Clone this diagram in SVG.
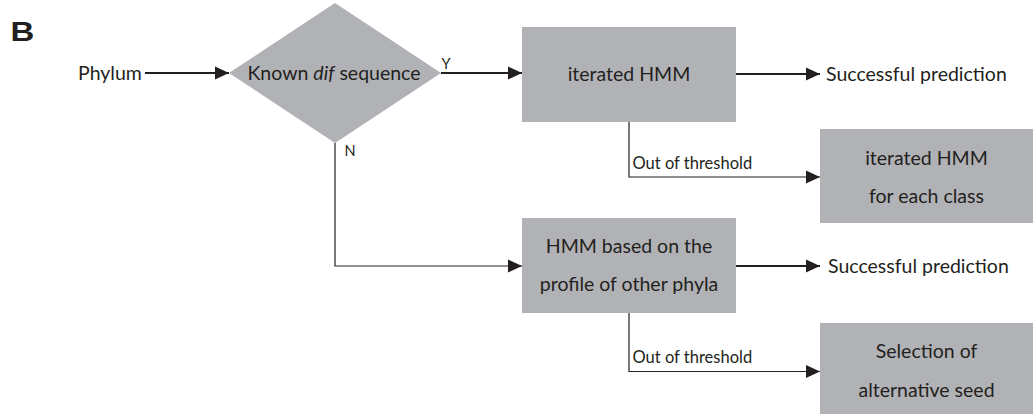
<svg xmlns="http://www.w3.org/2000/svg" width="1033" height="414" viewBox="0 0 1033 414">
<style>
.shape{fill:#b1b2b5;stroke:none}
.t{font-family:Lato,"Open Sans","Liberation Sans",sans-serif;fill:#231f20}
.mid{font-size:19.5px}
.sm{font-size:16.5px}
.yn{font-size:14.5px}
.c{text-anchor:middle}
.thick{stroke:#231f20;stroke-width:2;fill:none}
.thin{stroke:#231f20;stroke-width:1.2;fill:none}
.ah{fill:#231f20}
</style>
<defs>
<marker id="arr" markerUnits="userSpaceOnUse" markerWidth="14" markerHeight="14" viewBox="0 0 14 14" refX="14" refY="7" orient="auto">
<path d="M0,0.5 L14,7 L0,13.5 Z" class="ah"/>
</marker>
</defs>
<text x="0" y="0" transform="translate(10.5,40.7) scale(1.22,1)" style="font-family:'Liberation Sans',Arial,sans-serif;font-size:27px;font-weight:bold;fill:#231f20">B</text>
<g id="phylum"><text x="78" y="80" class="t mid">Phylum</text></g>
<g id="decision">
<polygon class="shape" points="335,3 441,73 335,143 229,73"/>
<text x="334" y="80" class="t mid c">Known <tspan font-style="italic">dif</tspan> sequence</text>
</g>
<g id="iterated">
<rect class="shape" x="522" y="27" width="214" height="95"/>
<text x="629" y="81" class="t mid c">iterated HMM</text>
</g>
<g id="success1"><text x="826" y="81" class="t mid">Successful prediction</text></g>
<g id="iterclass">
<rect class="shape" x="820" y="129" width="213" height="94"/>
<text x="926.5" y="165" class="t mid c">iterated HMM</text>
<text x="926.5" y="203" class="t mid c">for each class</text>
</g>
<g id="profile">
<rect class="shape" x="522" y="218" width="214" height="95"/>
<text x="629" y="253" class="t mid c">HMM based on the</text>
<text x="629" y="291" class="t mid c">profile of other phyla</text>
</g>
<g id="success2"><text x="828" y="273" class="t mid">Successful prediction</text></g>
<g id="seed">
<rect class="shape" x="820" y="323" width="213" height="91"/>
<text x="926.5" y="358" class="t mid c">Selection of</text>
<text x="926.5" y="397" class="t mid c">alternative seed</text>
</g>
<g id="connectors">
<path class="thick" d="M145,73 H229" marker-end="url(#arr)"/>
<path class="thick" d="M441,73 H522" marker-end="url(#arr)"/>
<path class="thick" d="M736,74 H820" marker-end="url(#arr)"/>
<path class="thin" d="M629,122 V177 H820" marker-end="url(#arr)"/>
<path class="thin" d="M335,143 V266 H522" marker-end="url(#arr)"/>
<path class="thick" d="M736,266 H820" marker-end="url(#arr)"/>
<path class="thin" d="M629,313 V371.5 H820" marker-end="url(#arr)"/>
<text x="441.5" y="68.5" class="t yn">Y</text>
<text x="344.5" y="155.5" class="t yn">N</text>
<text x="632.5" y="168.5" class="t sm">Out of threshold</text>
<text x="632.5" y="363" class="t sm">Out of threshold</text>
</g>
</svg>
